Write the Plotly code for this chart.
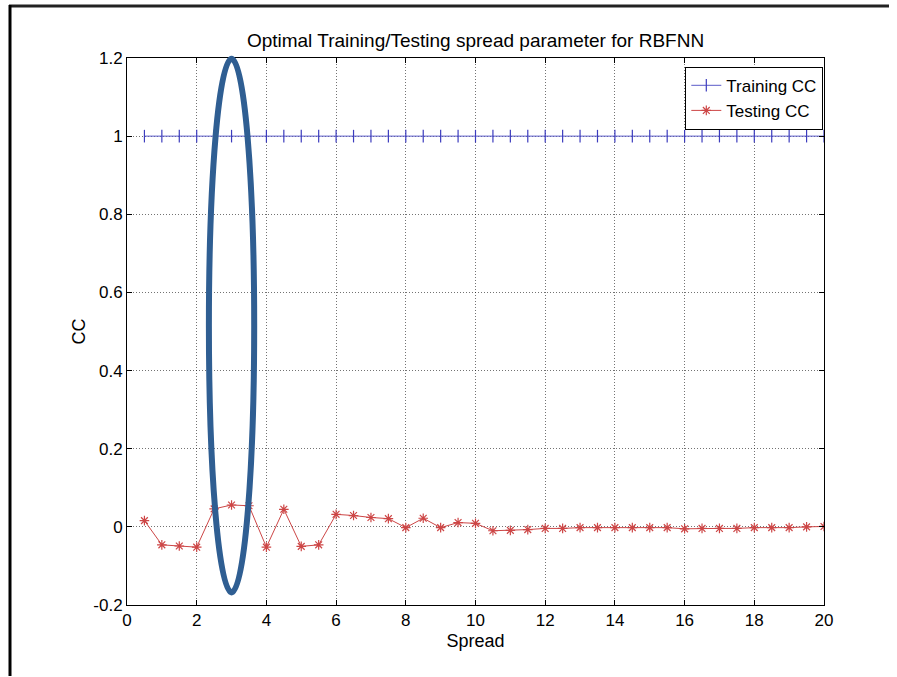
import plotly.graph_objects as go

spread = [0.5, 1.0, 1.5, 2.0, 2.5, 3.0, 3.5, 4.0, 4.5, 5.0, 5.5, 6.0, 6.5, 7.0, 7.5,
          8.0, 8.5, 9.0, 9.5, 10.0, 10.5, 11.0, 11.5, 12.0, 12.5, 13.0, 13.5, 14.0,
          14.5, 15.0, 15.5, 16.0, 16.5, 17.0, 17.5, 18.0, 18.5, 19.0, 19.5, 20.0]
training_cc = [1.0] * 40
testing_cc = [0.016, -0.046, -0.049, -0.052, 0.046, 0.056, 0.054, -0.052, 0.045, -0.050,
              -0.046, 0.032, 0.029, 0.024, 0.021, -0.002, 0.022, -0.002, 0.011, 0.009,
              -0.010, -0.009, -0.007, -0.004, -0.004, -0.002, -0.002, -0.002, -0.002, -0.002,
              -0.002, -0.005, -0.004, -0.004, -0.004, -0.002, -0.002, -0.002, 0.000, 0.001]

x_ticks = [0, 2, 4, 6, 8, 10, 12, 14, 16, 18, 20]
y_ticks = [-0.2, 0, 0.2, 0.4, 0.6, 0.8, 1.0, 1.2]
y_tick_labels = ["-0.2", "0", "0.2", "0.4", "0.6", "0.8", "1", "1.2"]

x_range = [0, 20]
y_range = [-0.2, 1.2]

# highlighted region (ellipse) in data units
ell_x = [2.35, 3.65]
ell_y = [-0.168, 1.198]

W, H = 897, 677
ML, MR, MT, MB = 127, 73, 58, 72
PW, PH = W - ML - MR, H - MT - MB

def px(v):
    return (v - x_range[0]) / (x_range[1] - x_range[0])

def py(v):
    return (v - y_range[0]) / (y_range[1] - y_range[0])

fig = go.Figure()
fig.add_trace(go.Scatter(
    x=spread, y=training_cc, mode="lines+markers", name="Training CC",
    line=dict(color="rgb(90,90,200)", width=1),
    marker=dict(symbol="line-ns", size=9, line=dict(color="rgb(60,60,190)", width=1.2)),
))
fig.add_trace(go.Scatter(
    x=spread, y=testing_cc, mode="lines+markers", name="Testing CC",
    line=dict(color="rgb(205,70,70)", width=1),
    marker=dict(symbol="asterisk-open", size=8, line=dict(color="rgb(215,30,30)", width=1.2)),
))

font = "Liberation Sans, Arial, sans-serif"

axis_common = dict(
    showline=True, linecolor="black", linewidth=1, mirror="ticks",
    ticks="inside", ticklen=5, tickcolor="black",
    showgrid=True, gridcolor="rgba(0,0,0,0.55)", griddash="1px,2px", gridwidth=1,
    zeroline=False, tickfont=dict(family=font, size=17, color="black"),
)

fig.update_layout(
    width=W, height=H,
    margin=dict(l=ML, r=MR, t=MT, b=MB),
    paper_bgcolor="white", plot_bgcolor="white",
    title=dict(text="Optimal Training/Testing spread parameter for RBFNN",
               x=(ML + PW / 2) / W, xanchor="center", y=1 - 40 / H, yanchor="middle",
               font=dict(family=font, size=19, color="black")),
    xaxis=dict(range=x_range, tickvals=x_ticks,
               title=dict(text="Spread", font=dict(family=font, size=18, color="black"), standoff=4),
               **axis_common),
    yaxis=dict(range=y_range, tickvals=y_ticks, ticktext=y_tick_labels,
               title=dict(text="CC", font=dict(family=font, size=18, color="black"), standoff=3),
               **axis_common),
    legend=dict(x=0.999, y=0.984, xanchor="right", yanchor="top",
                bgcolor="white", bordercolor="black", borderwidth=1,
                font=dict(family=font, size=17, color="black"),
                tracegroupgap=0),
    showlegend=True,
)

# highlight ellipse (paper-referenced so it is not clipped)
fig.add_shape(type="circle", xref="paper", yref="paper",
              x0=px(ell_x[0]), x1=px(ell_x[1]), y0=py(ell_y[0]), y1=py(ell_y[1]),
              line=dict(color="#2F5E92", width=6), layer="above")

# figure frame lines (top and left)
fig.add_shape(type="line", xref="paper", yref="paper",
              x0=(9 - ML) / PW, x1=(W - 8 - ML) / PW,
              y0=1 + (MT - 6) / PH, y1=1 + (MT - 6) / PH,
              line=dict(color="#222222", width=3), layer="above")
fig.add_shape(type="line", xref="paper", yref="paper",
              x0=(10 - ML) / PW, x1=(10 - ML) / PW,
              y0=1 + (MT - 5) / PH, y1=-(MB - 1) / PH,
              line=dict(color="black", width=3), layer="above")

fig.write_html("out.html", config={"displayModeBar": False},
               post_script=("document.documentElement.style.overflow='hidden';"
                            "document.body.style.overflow='hidden';"
                            "document.body.style.margin='0';document.body.style.padding='0';"))
